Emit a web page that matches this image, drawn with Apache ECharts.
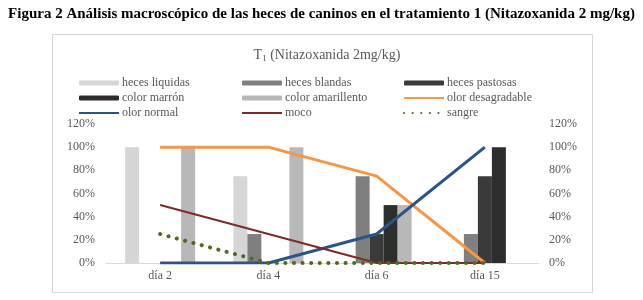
<!DOCTYPE html>
<html>
<head>
<meta charset="utf-8">
<script src="https://cdn.jsdelivr.net/npm/echarts@6/dist/echarts.min.js"></script>
<style>
  html, body { margin: 0; padding: 0; background: #fff; }
  #chart { width: 643px; height: 300px; }
</style>
</head>
<body>
<div id="chart"></div>
<script>
// categories and percentages
const days = ["día 2", "día 4", "día 6", "día 15"];
const hecesLiquidas = [100, 75, 0, 0];
const hecesBlandas = [0, 25, 75, 25];
const hecesPastosas = [0, 0, 25, 75];
const colorMarron = [0, 0, 50, 100];
const colorAmarillento = [100, 100, 50, 0];
const olorDesagradable = [100, 100, 75, 0];
const olorNormal = [0, 0, 25, 100];
const moco = [50, 25, 0, 0];
const sangre = [25, 0, 0, 0];

const chart = echarts.init(document.getElementById("chart"));

const serif = "Liberation Serif";
const grayText = "#595959";

const bar = (name, data, color) => ({
  name, type: "bar", data, barWidth: 14, barGap: "0%",
  itemStyle: { color }, z: 2,
});
const line = (name, data, color, width, extra) => ({
  name, type: "line", data, symbol: "none", z: 5,
  lineStyle: Object.assign({ color, width }, extra || {}),
  itemStyle: { color },
});
// line entries in the legend: hide the marker circle echarts puts in the middle
const lineItem = (name) => ({ name, itemStyle: { opacity: 0 } });

const legendBase = {
  orient: "vertical",
  itemWidth: 40,
  itemHeight: 5,
  itemGap: 1,
  padding: 0,
  textStyle: { fontFamily: serif, fontSize: 12, color: grayText, lineHeight: 14, padding: [0, 0, 0, -2] },
};

chart.setOption({
  animation: false,
  textStyle: { fontFamily: serif },
  title: [
    {
      text: "Figura 2 Análisis macroscópico de las heces de caninos en el tratamiento 1 (Nitazoxanida 2 mg/kg)",
      left: "center", top: 2,
      textStyle: { fontFamily: serif, fontSize: 15, fontWeight: "bold", color: "#000" },
    },
    {
      text: "T{sub|1} (Nitazoxanida 2mg/kg)",
      left: 322, textAlign: "center", top: 43,
      textStyle: {
        fontFamily: serif, fontSize: 14, fontWeight: "normal", color: grayText,
        rich: { sub: { fontFamily: serif, fontSize: 9, color: grayText, verticalAlign: "bottom", padding: [6, 0, 0, 0] } },
      },
    },
  ],
  graphic: [
    {
      type: "rect", shape: { x: 52.5, y: 34.5, width: 540, height: 258 },
      style: { fill: "none", stroke: "#d6d6d6", lineWidth: 1 }, silent: true, z: -1,
    },
  ],
  legend: [
    Object.assign({}, legendBase, { left: 78, top: 76, data: ["heces liquidas", "color marrón", lineItem("olor normal")] }),
    Object.assign({}, legendBase, { left: 241, top: 76, data: ["heces blandas", "color amarillento", lineItem("moco")] }),
    Object.assign({}, legendBase, { left: 403, top: 76, data: ["heces pastosas", lineItem("olor desagradable"), lineItem("sangre")] }),
  ],
  grid: { left: 106, right: 104, top: 124, bottom: 37 },
  xAxis: {
    type: "category",
    data: days,
    axisLine: { lineStyle: { color: "#d9d9d9", width: 1 } },
    axisTick: { show: false },
    axisLabel: { fontFamily: serif, fontSize: 12, color: grayText, margin: 7 },
  },
  yAxis: [
    {
      type: "value", min: 0, max: 120, interval: 20,
      axisLine: { show: false }, axisTick: { show: false }, splitLine: { show: false },
      axisLabel: { formatter: "{value}%", fontFamily: serif, fontSize: 12, color: grayText, margin: 11 },
    },
    {
      type: "value", min: 0, max: 120, interval: 20, position: "right",
      axisLine: { show: false }, axisTick: { show: false }, splitLine: { show: false },
      axisLabel: { formatter: "{value}%", fontFamily: serif, fontSize: 12, color: grayText, margin: 10 },
    },
  ],
  series: [
    bar("heces liquidas", hecesLiquidas, "#d6d6d6"),
    bar("heces blandas", hecesBlandas, "#7f7f7f"),
    bar("heces pastosas", hecesPastosas, "#3a3a3a"),
    bar("color marrón", colorMarron, "#2b2e2b"),
    bar("color amarillento", colorAmarillento, "#b8b8b8"),
    line("olor desagradable", olorDesagradable, "#f79646", 3),
    line("olor normal", olorNormal, "#2c5486", 3),
    line("moco", moco, "#7f2a2a", 2),
    line("sangre", sangre, "#4f6b22", 4, { type: [0.1, 8.5], cap: "round" }),
  ],
});
</script>
</body>
</html>
